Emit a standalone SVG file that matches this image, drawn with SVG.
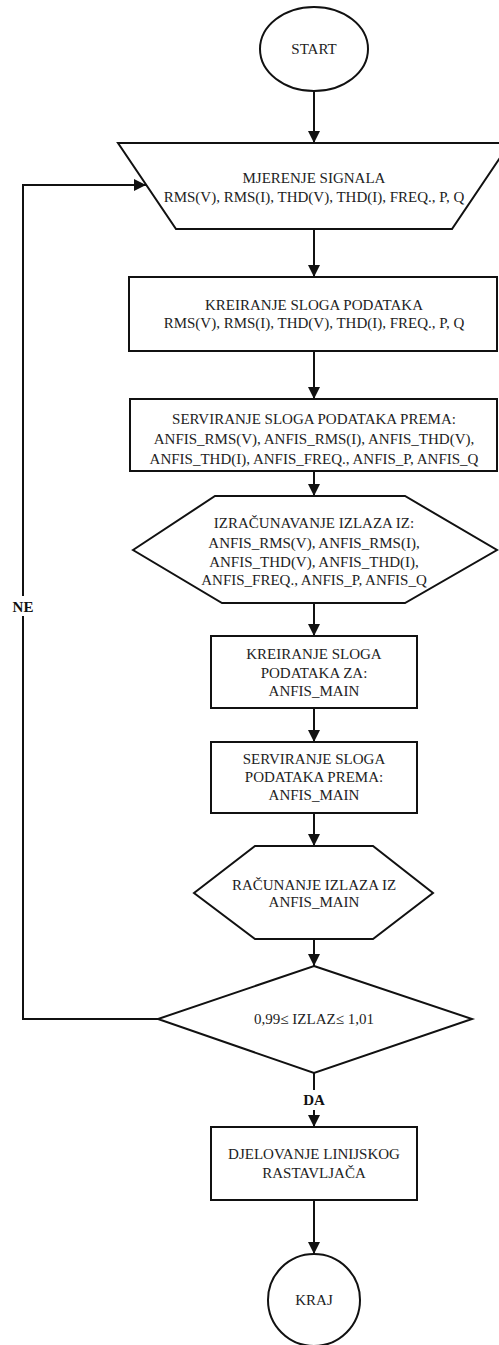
<svg xmlns="http://www.w3.org/2000/svg" width="499" height="1345" viewBox="0 0 499 1345">
<style>
.s{fill:#fff;stroke:#111;stroke-width:2}
.t{font-family:"Liberation Serif","Times New Roman",serif;font-size:15px;fill:#222;text-anchor:middle}
.b{font-weight:bold;fill:#111}
.c{fill:none;stroke:#111;stroke-width:2}
</style>
<defs>
<marker id="ah" markerUnits="userSpaceOnUse" markerWidth="12" markerHeight="12" refX="12" refY="6" orient="auto">
<path d="M0,0 L12,6 L0,12 z" fill="#111"/>
</marker>
</defs>
<rect width="499" height="1345" fill="#fff"/>
<g id="connectors">
<line class="c" x1="314" y1="91" x2="314" y2="143" marker-end="url(#ah)"/>
<line class="c" x1="314" y1="229" x2="314" y2="277" marker-end="url(#ah)"/>
<line class="c" x1="314" y1="351" x2="314" y2="399" marker-end="url(#ah)"/>
<line class="c" x1="314" y1="471" x2="314" y2="496" marker-end="url(#ah)"/>
<line class="c" x1="314" y1="603" x2="314" y2="636" marker-end="url(#ah)"/>
<line class="c" x1="314" y1="708" x2="314" y2="742" marker-end="url(#ah)"/>
<line class="c" x1="314" y1="813" x2="314" y2="846" marker-end="url(#ah)"/>
<line class="c" x1="314" y1="939" x2="314" y2="966" marker-end="url(#ah)"/>
<line class="c" x1="314" y1="1073" x2="314" y2="1127" marker-end="url(#ah)"/>
<line class="c" x1="314" y1="1200" x2="314" y2="1254" marker-end="url(#ah)"/>
<polyline class="c" points="158,1019 23,1019 23,185 146,185" marker-end="url(#ah)"/>
<rect x="8" y="596" width="30" height="20" fill="#fff"/>
<text class="t b" x="23" y="612">NE</text>
<rect x="298" y="1090" width="32" height="20" fill="#fff"/>
<text class="t b" x="314" y="1105">DA</text>
</g>
<g id="start">
<ellipse class="s" cx="314" cy="49" rx="54" ry="42"/>
<text class="t" x="314" y="54">START</text>
</g>
<g id="mjerenje">
<polygon class="s" points="118,143 510,143 452,229 176,229"/>
<text class="t" x="314" y="183">MJERENJE SIGNALA</text>
<text class="t" x="314" y="202">RMS(V), RMS(I), THD(V), THD(I), FREQ., P, Q</text>
</g>
<g id="kreiranje1">
<rect class="s" x="129" y="277" width="368" height="74"/>
<text class="t" x="314" y="310">KREIRANJE SLOGA PODATAKA</text>
<text class="t" x="314" y="328">RMS(V), RMS(I), THD(V), THD(I), FREQ., P, Q</text>
</g>
<g id="serviranje1">
<rect class="s" x="130" y="399" width="367" height="72"/>
<text class="t" x="314" y="424">SERVIRANJE SLOGA PODATAKA PREMA:</text>
<text class="t" x="314" y="444">ANFIS_RMS(V), ANFIS_RMS(I), ANFIS_THD(V),</text>
<text class="t" x="314" y="464">ANFIS_THD(I), ANFIS_FREQ., ANFIS_P, ANFIS_Q</text>
</g>
<g id="izracunavanje">
<polygon class="s" points="133,550 215,496 405,496 497,550 405,603 222,603"/>
<text class="t" x="314" y="528">IZRAČUNAVANJE IZLAZA IZ:</text>
<text class="t" x="314" y="548">ANFIS_RMS(V), ANFIS_RMS(I),</text>
<text class="t" x="314" y="567">ANFIS_THD(V), ANFIS_THD(I),</text>
<text class="t" x="314" y="585">ANFIS_FREQ., ANFIS_P, ANFIS_Q</text>
</g>
<g id="kreiranje2">
<rect class="s" x="211" y="636" width="206" height="72"/>
<text class="t" x="314" y="659">KREIRANJE SLOGA</text>
<text class="t" x="314" y="678">PODATAKA ZA:</text>
<text class="t" x="314" y="696">ANFIS_MAIN</text>
</g>
<g id="serviranje2">
<rect class="s" x="211" y="742" width="206" height="71"/>
<text class="t" x="314" y="764">SERVIRANJE SLOGA</text>
<text class="t" x="314" y="782">PODATAKA PREMA:</text>
<text class="t" x="314" y="800">ANFIS_MAIN</text>
</g>
<g id="racunanje">
<polygon class="s" points="194,893 255,846 373,846 433,893 373,939 255,939"/>
<text class="t" x="314" y="890">RAČUNANJE IZLAZA IZ</text>
<text class="t" x="314" y="907">ANFIS_MAIN</text>
</g>
<g id="odluka">
<polygon class="s" points="314,966 472,1019 314,1073 158,1019"/>
<text class="t" x="314" y="1024">0,99≤ IZLAZ≤ 1,01</text>
</g>
<g id="djelovanje">
<rect class="s" x="211" y="1127" width="206" height="73"/>
<text class="t" x="314" y="1159">DJELOVANJE LINIJSKOG</text>
<text class="t" x="314" y="1178">RASTAVLJAČA</text>
</g>
<g id="kraj">
<ellipse class="s" cx="314" cy="1300" rx="46" ry="46"/>
<text class="t" x="314" y="1305">KRAJ</text>
</g>
</svg>
